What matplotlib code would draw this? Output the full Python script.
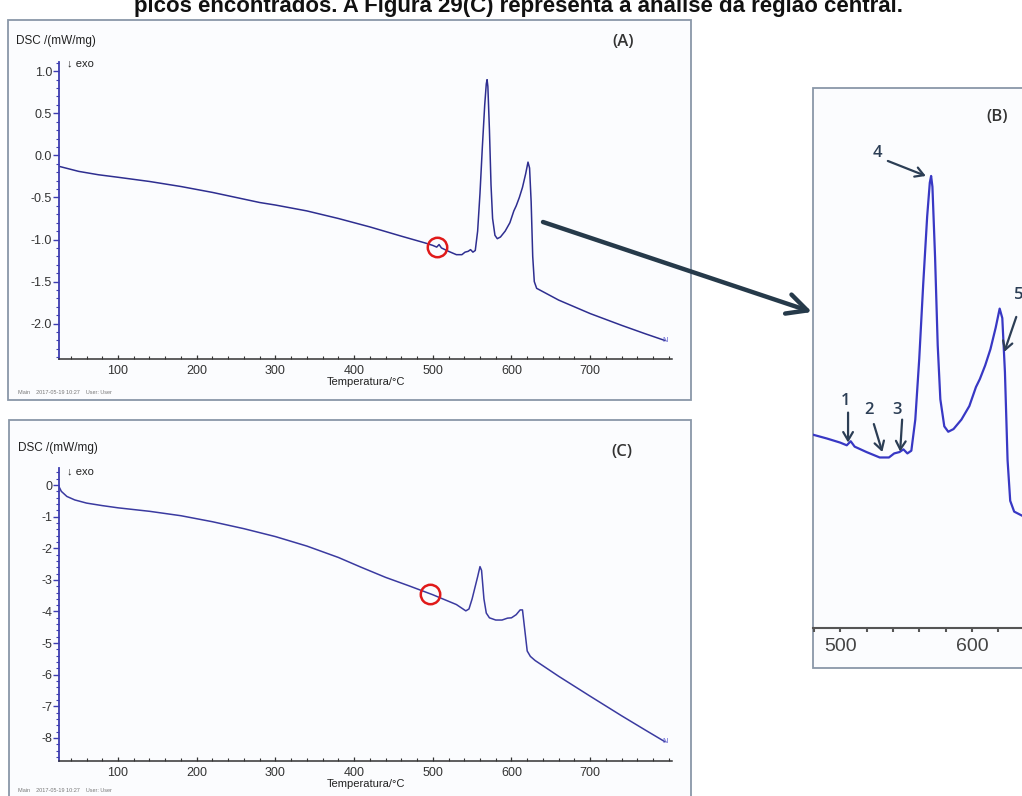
import matplotlib
matplotlib.use('Agg')
import matplotlib.pyplot as plt
from matplotlib.patches import Rectangle, FancyArrowPatch
from matplotlib.ticker import MultipleLocator, FixedLocator
import numpy as np

W, H = 1022, 796

# curva DSC da amostra (A), também usada na ampliação (B)
temp_a = [25, 50, 75, 100, 140, 180, 220, 250, 280, 300, 340, 380, 420, 460, 490,
          500, 505, 508, 511, 520, 530, 537, 541, 545, 548, 551, 554, 557, 560, 563,
          566, 568, 569, 570, 572, 574, 576, 579, 582, 586, 592, 598, 603, 606, 610,
          614, 618, 621, 623, 625, 627, 629, 632, 640, 660, 700, 740, 770, 795]
dsc_a = [-0.13, -0.19, -0.23, -0.26, -0.31, -0.37, -0.44, -0.50, -0.56, -0.59, -0.66,
         -0.75, -0.85, -0.96, -1.04, -1.07, -1.09, -1.06, -1.10, -1.14, -1.18, -1.18,
         -1.15, -1.14, -1.12, -1.15, -1.13, -0.90, -0.45, 0.10, 0.60, 0.85, 0.90, 0.82,
         0.30, -0.35, -0.75, -0.95, -0.99, -0.97, -0.90, -0.80, -0.66, -0.60, -0.50,
         -0.38, -0.22, -0.08, -0.15, -0.55, -1.20, -1.50, -1.58, -1.62, -1.72, -1.88,
         -2.02, -2.12, -2.20]

# curva DSC da amostra (C)
temp_c = [25, 28, 35, 45, 60, 80, 100, 140, 180, 220, 260, 300, 340, 380, 408, 440,
          470, 500, 530, 542, 546, 550, 554, 557, 560, 562, 565, 568, 572, 580, 588,
          595, 600, 606, 611, 614, 617, 620, 624, 630, 660, 700, 740, 770, 795]
dsc_c = [-0.05, -0.20, -0.36, -0.47, -0.57, -0.65, -0.72, -0.83, -0.97, -1.16, -1.38,
         -1.63, -1.93, -2.29, -2.59, -2.92, -3.19, -3.47, -3.78, -3.98, -3.92, -3.60,
         -3.20, -2.90, -2.58, -2.70, -3.60, -4.05, -4.20, -4.27, -4.27, -4.21, -4.20,
         -4.10, -3.95, -3.95, -4.60, -5.25, -5.42, -5.55, -6.05, -6.68, -7.30, -7.75,
         -8.12]

ticks_temp = [100, 200, 300, 400, 500, 600, 700]
ticks_a = [1.0, 0.5, 0.0, -0.5, -1.0, -1.5, -2.0]
ticks_c = [0, -1, -2, -3, -4, -5, -6, -7, -8]
ticks_b = [500, 600]

# círculos vermelhos (região analisada) e picos marcados em (B)
circulo_a = 505
circulo_c = 497
picos_b = ['1', '2', '3', '4', '5']
temp_picos_b = [506, 532, 545.5, 565, 624.5]

header = 'picos encontrados. A Figura 29(C) representa a análise da região central.'
rodape = 'Main    2017-05-19 10:27    User: User'

plt.rcParams['font.family'] = ['Liberation Sans', 'DejaVu Sans']

fig = plt.figure(figsize=(W / 100, H / 100), dpi=100)
fig.patch.set_facecolor('white')


def px_axes(x0, y0, x1, y1):
    return fig.add_axes([x0 / W, 1 - y1 / H, (x1 - x0) / W, (y1 - y0) / H])


def px(x, y):
    return (x / W, 1 - y / H)


def quadro(x0, y0, x1, y1):
    r = Rectangle(px(x0, y1), (x1 - x0) / W, (y1 - y0) / H, transform=fig.transFigure,
                  facecolor='#fbfcfe', edgecolor='#8a97a8', lw=1.3, zorder=0)
    fig.add_artist(r)


fig.text(518 / W, 1 - 12 / H, header, ha='center', va='baseline', fontsize=16,
         fontweight='bold', color='#111111')

quadro(8, 20, 691, 400)
quadro(9, 420, 691, 810)
quadro(813, 88, 1040, 668)


def painel(ax, t, d, ylim, yticks, ymin_step, fmt, color):
    ax.plot(t, d, color=color, lw=1.1)
    ax.set_xlim(25, 804)
    ax.set_ylim(*ylim)
    ax.set_facecolor('none')
    for s in ['top', 'right']:
        ax.spines[s].set_visible(False)
    ax.spines['left'].set_color('#3c3cb0')
    ax.spines['left'].set_linewidth(1.3)
    ax.spines['bottom'].set_color('#333333')
    ax.spines['bottom'].set_linewidth(1.1)
    ax.xaxis.set_major_locator(FixedLocator(ticks_temp))
    ax.xaxis.set_minor_locator(MultipleLocator(20))
    ax.yaxis.set_major_locator(FixedLocator(yticks))
    ax.yaxis.set_minor_locator(MultipleLocator(ymin_step))
    ax.set_yticklabels([fmt.format(v) for v in yticks])
    ax.tick_params(axis='y', which='major', direction='out', length=4, width=1,
                   color='#3c3cb0', labelsize=9, labelcolor='#333333', pad=1)
    ax.tick_params(axis='y', which='minor', direction='out', length=2, width=0.8,
                   color='#3c3cb0')
    ax.tick_params(axis='x', which='major', direction='in', length=3, width=0.9,
                   color='#333333', labelsize=9, labelcolor='#333333', pad=4)
    ax.tick_params(axis='x', which='minor', direction='in', length=2, width=0.8,
                   color='#333333')
    ax.set_xlabel('Temperatura/°C', fontsize=8, color='#222222', labelpad=0)
    ax.text(795, d[-1], 'N', fontsize=5, color='#5a5ad0', ha='center', va='center')


# (A)
ax_a = px_axes(59, 62, 672, 359)
painel(ax_a, temp_a, dsc_a, (-2.42, 1.11), ticks_a, 0.1, '{:.1f}', '#2e2e90')
ax_a.plot(circulo_a, np.interp(circulo_a, temp_a, dsc_a), 'o', ms=14, mfc='none',
          mec='#e01a1a', mew=1.8)
fig.text(16 / W, 1 - 41 / H, 'DSC /(mW/mg)', fontsize=8.5, va='center', color='#222222')
fig.text(67 / W, 1 - 63 / H, '↓ exo', fontsize=8, va='center', color='#222222')
fig.text(623 / W, 1 - 42 / H, '(A)', fontsize=12, va='center', ha='center',
         color='#333333', family=['Open Sans', 'DejaVu Sans'], fontweight='semibold')
fig.text(18 / W, 1 - 392 / H, rodape, fontsize=4, va='center', color='#777777')

# (C)
ax_c = px_axes(59, 468, 672, 761)
painel(ax_c, temp_c, dsc_c, (-8.73, 0.54), ticks_c, 0.2, '{:.0f}', '#3a3aa0')
ax_c.plot(circulo_c, np.interp(circulo_c, temp_c, dsc_c), 'o', ms=14, mfc='none',
          mec='#e01a1a', mew=1.8)
fig.text(18 / W, 1 - 448 / H, 'DSC /(mW/mg)', fontsize=8.5, va='center', color='#222222')
fig.text(67 / W, 1 - 471 / H, '↓ exo', fontsize=8, va='center', color='#222222')
fig.text(622 / W, 1 - 452 / H, '(C)', fontsize=12, va='center', ha='center',
         color='#333333', family=['Open Sans', 'DejaVu Sans'], fontweight='semibold')
fig.text(18 / W, 1 - 791 / H, rodape, fontsize=4, va='center', color='#777777')

# (B) ampliação da região 480-650 °C
ax_b = px_axes(813, 88, 1040, 628)
ax_b.plot(temp_a, dsc_a, color='#3838c4', lw=1.6)
ax_b.set_xlim(479.4, 651.6)
ax_b.set_ylim(-2.44, 1.55)
ax_b.set_facecolor('none')
for s in ['top', 'right', 'left']:
    ax_b.spines[s].set_visible(False)
ax_b.spines['bottom'].set_color('#555555')
ax_b.spines['bottom'].set_linewidth(1.5)
ax_b.set_yticks([])
ax_b.xaxis.set_major_locator(FixedLocator(ticks_b))
ax_b.xaxis.set_minor_locator(MultipleLocator(20))
ax_b.tick_params(axis='x', which='both', direction='out', length=3, width=1.5,
                 color='#555555', labelsize=14, labelcolor='#444444', pad=4)
fig.text(997 / W, 1 - 117 / H, '(B)', fontsize=12, va='center', ha='center',
         color='#333333', family=['Open Sans', 'DejaVu Sans'], fontweight='semibold')

# deslocamentos (px) da cauda da seta e do rótulo em relação à ponta
cauda = [(0, 30), (-8.5, 28), (2, 32), (-38, 15), (12, 35)]
rotulo = [(-3, 42), (-13, 42), (-3, 42), (-48, 23), (14, 57)]
ajuste = [0.01, 0.04, 0.0, 0.0, 0.05]
for i, nome in enumerate(picos_b):
    t = temp_picos_b[i]
    v = np.interp(t, temp_a, dsc_a) + ajuste[i]
    if i == 3:
        v = max(dsc_a)
    ax_b.annotate('', xy=(t, v), xytext=cauda[i], textcoords='offset pixels',
                  arrowprops=dict(arrowstyle='->,head_length=0.6,head_width=0.35',
                                  color='#2c3e55', lw=1.6, shrinkA=0, shrinkB=0))
    ax_b.annotate(nome, xy=(t, v), xytext=rotulo[i], textcoords='offset pixels',
                  ha='center', va='center', fontsize=12, color='#2c3e55',
                  fontweight='semibold', family=['Open Sans', 'DejaVu Sans'])

# seta ligando (A) a (B)
seta = FancyArrowPatch(px(543, 222), px(812, 312), transform=fig.transFigure,
                       arrowstyle='->,head_length=0.9,head_width=0.45',
                       mutation_scale=16, color='#263a4a', lw=3.2,
                       shrinkA=0, shrinkB=0)
fig.add_artist(seta)

fig.savefig('out.png', dpi=100)
